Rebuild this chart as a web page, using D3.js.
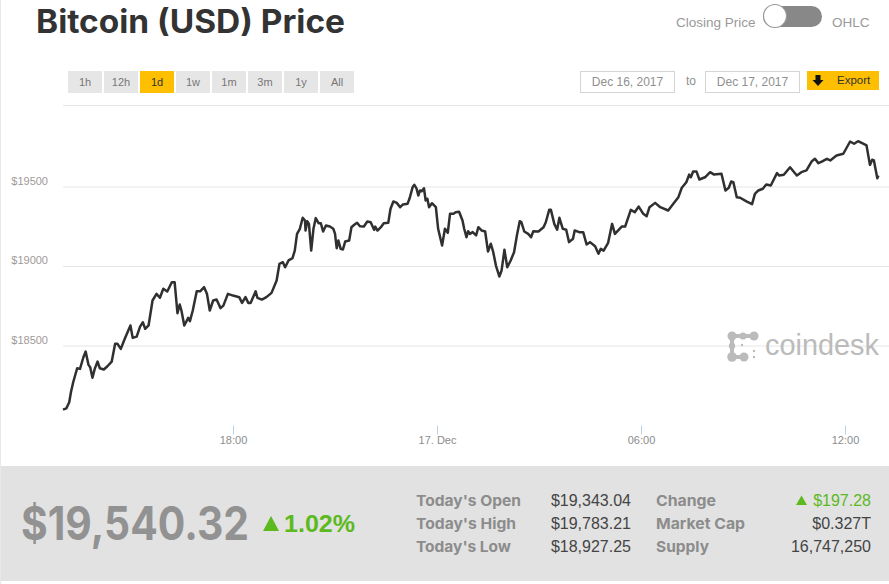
<!DOCTYPE html>
<html>
<head>
<meta charset="utf-8">
<script src="https://cdn.jsdelivr.net/npm/d3@7"></script>
<style>
  html, body { margin: 0; padding: 0; background: #fff; overflow: hidden; }
  svg { display: block; }
  text { font-family: "Liberation Sans", sans-serif; }
  .heavy { font-family: Inter, sans-serif; font-weight: 700; }
</style>
</head>
<body>
<svg id="chart" width="889" height="584"></svg>
<script>
// minutes after 13:00 on Dec 16
const minutes = [0,6,11,14,18,25,30,36,40,45,48,52,56,61,65,72,78,86,92,96,102,109,119,123,130,136,141,145,151,158,165,171,177,184,192,197,202,206,209,214,221,224,229,236,242,249,254,259,265,271,278,283,291,300,311,316,322,327,331,340,343,351,359,368,377,382,388,392,398,405,409,413,418,423,427,428,431,434,438,442,446,451,455,459,464,471,477,480,483,486,490,494,498,505,509,514,519,524,531,537,543,549,551,555,561,566,574,578,583,589,595,600,608,612,617,620,624,627,630,633,637,640,643,646,651,658,662,669,674,679,683,689,693,699,705,708,712,715,718,723,729,733,739,745,750,755,759,764,770,774,779,784,790,796,801,806,809,814,821,826,830,839,848,852,858,861,867,872,876,882,888,893,900,903,911,918,924,930,939,945,949,954,962,969,974,986,992,1002,1009,1016,1024,1030,1035,1045,1054,1068,1077,1086,1092,1100,1105,1108,1112,1118,1123,1133,1142,1149,1162,1169,1175,1179,1183,1189,1195,1206,1216,1221,1227,1235,1241,1249,1260,1264,1272,1283,1295,1303,1312,1321,1327,1333,1339,1348,1354,1365,1377,1389,1396,1403,1412,1418,1424,1428,1431,1437,1439];
const closes = [18097,18105,18143,18206,18269,18357,18353,18426,18462,18378,18363,18297,18353,18399,18357,18349,18368,18399,18511,18511,18479,18542,18626,18548,18556,18619,18646,18605,18626,18783,18825,18800,18857,18840,18898,18898,18703,18758,18720,18626,18674,18653,18720,18841,18841,18867,18825,18720,18783,18789,18735,18751,18825,18814,18804,18768,18804,18768,18768,18841,18800,18789,18804,18831,18909,19014,19024,18992,19035,19049,19097,19202,19234,19303,19286,19223,19282,19265,19097,19234,19301,19269,19269,19217,19255,19248,19234,19204,19112,19160,19108,19104,19154,19160,19244,19259,19272,19250,19248,19280,19275,19228,19248,19223,19244,19269,19272,19360,19406,19397,19370,19387,19391,19429,19496,19511,19486,19443,19475,19470,19489,19412,19423,19370,19395,19370,19234,19129,19234,19209,19328,19328,19338,19341,19286,19234,19181,19219,19202,19213,19192,19244,19223,19217,19091,19140,19091,19003,18934,18972,19102,18992,19035,19087,19192,19282,19275,19217,19202,19181,19219,19217,19244,19275,19353,19353,19265,19228,19303,19234,19228,19150,19171,19223,19213,19213,19135,19150,19124,19077,19108,19097,19146,19265,19202,19248,19248,19353,19338,19374,19328,19313,19370,19397,19370,19349,19391,19433,19492,19527,19575,19558,19594,19594,19544,19558,19590,19575,19580,19475,19492,19531,19527,19433,19429,19406,19389,19454,19475,19486,19513,19506,19584,19569,19574,19621,19569,19590,19601,19657,19674,19647,19657,19674,19664,19695,19706,19783,19769,19785,19769,19758,19636,19668,19664,19552,19569];

const priceTicks = [18500, 19000, 19500];
const timeTicks = [300, 660, 1020, 1380];
const timeLabels = ['18:00', '17. Dec', '06:00', '12:00'];
const rangeButtons = ['1h', '12h', '1d', '1w', '1m', '3m', '1y', 'All'];
const activeRange = '1d';
const dateInputs = ['Dec 16, 2017', 'Dec 17, 2017'];
const leftLabels = ["Today's Open", "Today's High", "Today's Low"];
const leftValues = ['$19,343.04', '$19,783.21', '$18,927.25'];
const rightLabels = ['Change', 'Market Cap', 'Supply'];
const rightValues = ['$197.28', '$0.327T', '16,747,250'];

const yellow = '#fdbf00';
const green = '#5cb91e';

const svg = d3.select('#chart');

const x = d3.scaleLinear().domain([0, 1440]).range([63, 879]);
const y = d3.scaleLinear().domain([18500, 19500]).range([345.5, 186.5]);

// left edge of the page
svg.append('rect').attr('width', 1).attr('height', 584).attr('fill', '#e8e8e8');

// title + toggle
svg.append('text').attr('class', 'heavy')
  .attr('x', 36).attr('y', 33)
  .attr('font-size', 32).attr('fill', '#333')
  .attr('textLength', 309).attr('lengthAdjust', 'spacingAndGlyphs')
  .text('Bitcoin (USD) Price');

svg.append('text').attr('x', 676).attr('y', 27)
  .attr('font-size', 13.5).attr('fill', '#999').text('Closing Price');
svg.append('text').attr('x', 832).attr('y', 27)
  .attr('font-size', 13.5).attr('fill', '#999').text('OHLC');
svg.append('rect').attr('x', 763).attr('y', 6).attr('width', 59).attr('height', 21)
  .attr('rx', 10.5).attr('fill', '#888');
svg.append('circle').attr('cx', 775).attr('cy', 16).attr('r', 11.5)
  .attr('fill', '#fff').attr('stroke', '#999').attr('stroke-width', 1.2);

// range buttons
const buttons = svg.append('g').selectAll('g')
  .data(rangeButtons)
  .join('g')
  .attr('transform', (d, i) => `translate(${68 + i * 36},71)`);

buttons.append('rect')
  .attr('width', 34).attr('height', 22)
  .attr('fill', d => d === activeRange ? yellow : '#e6e6e6');

buttons.append('text')
  .attr('x', 17).attr('y', 15)
  .attr('text-anchor', 'middle')
  .attr('font-size', 11)
  .attr('fill', d => d === activeRange ? '#333' : '#777')
  .text(d => d);

// date inputs
const dates = svg.append('g').selectAll('g')
  .data(dateInputs)
  .join('g')
  .attr('transform', (d, i) => `translate(${580.5 + i * 125},71.5)`);

dates.append('rect')
  .attr('width', 94).attr('height', 21)
  .attr('fill', '#fff').attr('stroke', '#d4d4d4');

dates.append('text')
  .attr('x', 47).attr('y', 14)
  .attr('text-anchor', 'middle')
  .attr('font-size', 12).attr('fill', '#8f8f8f')
  .text(d => d);

svg.append('text').attr('x', 691).attr('y', 85)
  .attr('text-anchor', 'middle').attr('font-size', 12).attr('fill', '#8f8f8f').text('to');

// export button
svg.append('rect').attr('x', 807).attr('y', 71).attr('width', 72).attr('height', 19).attr('fill', yellow);
svg.append('path').attr('d', 'M815.5 75h5v5h3l-5.5 6l-5.5-6h3z').attr('fill', '#111');
svg.append('text').attr('x', 837).attr('y', 84)
  .attr('font-size', 11.5).attr('fill', '#333').text('Export');

// top border of the plot
svg.append('line').attr('x1', 63).attr('x2', 889).attr('y1', 105.5).attr('y2', 105.5)
  .attr('stroke', '#e6e6e6');

// y axis and grid
const yAxis = svg.append('g')
  .attr('transform', 'translate(63,0)')
  .call(d3.axisLeft(y)
    .tickValues(priceTicks)
    .tickSize(-826)
    .tickPadding(15)
    .tickFormat(d => '$' + d));

yAxis.select('.domain').remove();
yAxis.selectAll('.tick line').attr('stroke', '#e6e6e6');
// labels sit just above their grid lines
yAxis.selectAll('.tick text')
  .attr('y', -6)
  .attr('font-family', '"Liberation Sans", sans-serif')
  .attr('font-size', 11).attr('fill', '#a09a9a');

// x axis
const xAxis = svg.append('g')
  .attr('transform', 'translate(0,425.5)')
  .call(d3.axisBottom(x)
    .tickValues(timeTicks)
    .tickSize(9)
    .tickPadding(2)
    .tickFormat((d, i) => timeLabels[i]));

xAxis.select('.domain').remove();
xAxis.selectAll('.tick line').attr('stroke', '#c0d0e0');
xAxis.selectAll('.tick text')
  .attr('font-family', '"Liberation Sans", sans-serif')
  .attr('font-size', 11).attr('fill', '#8c8c8c');

// coindesk logo
const logo = svg.append('g').attr('fill', '#bbb');
[[732, 336, 4.5], [743, 336, 3.6], [754, 336, 4.5], [732, 346, 3.2], [732, 357, 4.8], [744, 357, 4.5],
 [742, 345, 1.2], [754, 351, 1.2], [754, 357, 1.2]].forEach(c => {
  logo.append('circle').attr('cx', c[0]).attr('cy', c[1]).attr('r', c[2]);
});
logo.append('rect').attr('x', 732).attr('y', 334).attr('width', 22).attr('height', 4);
logo.append('rect').attr('x', 730).attr('y', 336).attr('width', 4).attr('height', 21);
logo.append('rect').attr('x', 732).attr('y', 355).attr('width', 12).attr('height', 4);
svg.append('text')
  .attr('x', 765).attr('y', 355)
  .attr('font-family', 'Lato, sans-serif').attr('font-weight', 300)
  .attr('font-size', 30).attr('fill', '#bbb')
  .attr('textLength', 114).attr('lengthAdjust', 'spacingAndGlyphs')
  .text('coindesk');

// price line
const line = d3.line()
  .x((d, i) => x(minutes[i]))
  .y(d => y(d));

svg.append('path')
  .datum(closes)
  .attr('fill', 'none')
  .attr('stroke', '#303030')
  .attr('stroke-width', 2.5)
  .attr('stroke-linejoin', 'round')
  .attr('d', line);

// stats panel
svg.append('rect').attr('x', 1).attr('y', 466).attr('width', 888).attr('height', 115).attr('fill', '#e2e2e2');

svg.append('text').attr('class', 'heavy')
  .attr('x', 21).attr('y', 540)
  .attr('font-size', 46).attr('fill', '#929292')
  .attr('textLength', 228).attr('lengthAdjust', 'spacingAndGlyphs')
  .text('$19,540.32');

svg.append('path').attr('d', 'M263 531l8-15l8 15z').attr('fill', green);
svg.append('text')
  .attr('x', 284).attr('y', 532)
  .attr('font-family', 'Inter, sans-serif').attr('font-weight', 600)
  .attr('font-size', 24).attr('fill', green)
  .attr('textLength', 71).attr('lengthAdjust', 'spacingAndGlyphs')
  .text('1.02%');

const rowY = [506, 529, 552];

// label widths as measured on the reference
const leftWidths = [105, 100, 95];
const rightWidths = [60, 89, 53];

function statColumn(labels, widths, values, labelX, valueX) {
  svg.append('g').selectAll('text')
    .data(labels)
    .join('text')
    .attr('class', 'heavy')
    .attr('x', labelX)
    .attr('y', (d, i) => rowY[i])
    .attr('font-size', 15)
    .attr('fill', '#8c8c8c')
    .attr('textLength', (d, i) => widths[i])
    .attr('lengthAdjust', 'spacingAndGlyphs')
    .text(d => d);

  svg.append('g').selectAll('text')
    .data(values)
    .join('text')
    .attr('x', valueX)
    .attr('y', (d, i) => rowY[i])
    .attr('text-anchor', 'end')
    .attr('font-family', 'Lato, sans-serif')
    .attr('font-size', 16)
    .attr('fill', d => d === '$197.28' ? green : '#444')
    .text(d => d);
}

statColumn(leftLabels, leftWidths, leftValues, 416, 631);
statColumn(rightLabels, rightWidths, rightValues, 656, 871);

svg.append('path').attr('d', 'M796 505l5.5-9.5l5.5 9.5z').attr('fill', green);
</script>
</body>
</html>
